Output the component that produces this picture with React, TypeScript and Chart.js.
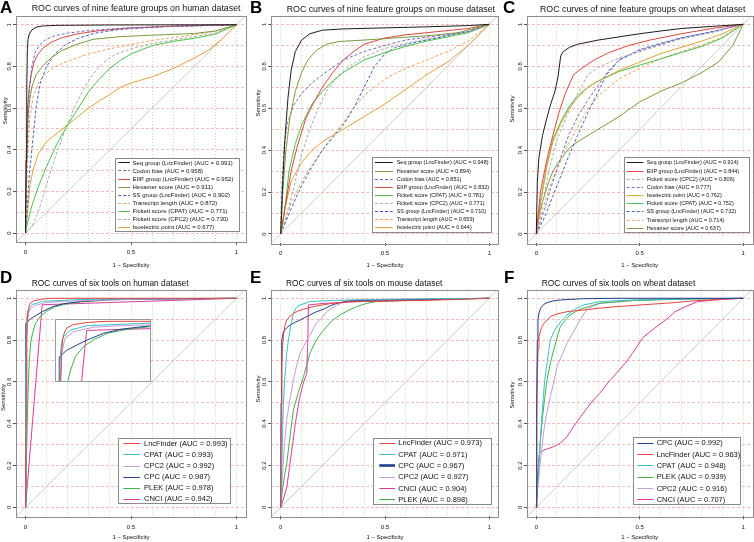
import React, { useEffect, useRef } from 'react';
import { Chart, registerables } from 'chart.js';

Chart.register(...registerables);

const FF = "'Liberation Sans', Arial, Helvetica, sans-serif";

type Pt = [number, number];

// ---------- ticks ----------
const X_TICKS = [0, 0.5, 1];
const Y_TICKS = [0, 0.2, 0.4, 0.6, 0.8, 1];
const GRID_TICKS = [0, 0.1, 0.2, 0.3, 0.4, 0.5, 0.6, 0.7, 0.8, 0.9, 1];

// ---------- Panel A : nine feature groups, human ----------
const A_names = ['Seq group (LncFinder)', 'Codon bias', 'EIIP group (LncFinder)', 'Hexamer score', 'SS group (LncFinder)', 'Transcript length', 'Fickett score (CPAT)', 'Fickett score (CPC2)', 'Isoelectric point'];
const A_auc = [0.991, 0.958, 0.952, 0.911, 0.902, 0.872, 0.771, 0.730, 0.677];
const A_seq: Pt[] = [[0, 0], [0.003, 0.35], [0.006, 0.7], [0.009, 0.88], [0.012, 0.93], [0.018, 0.955], [0.03, 0.975], [0.05, 0.988], [0.08, 0.994], [0.15, 0.997], [0.4, 0.999], [1, 1]];
const A_codon: Pt[] = [[0, 0], [0.005, 0.3], [0.012, 0.55], [0.02, 0.7], [0.03, 0.8], [0.045, 0.865], [0.065, 0.9], [0.09, 0.925], [0.13, 0.945], [0.2, 0.96], [0.3, 0.972], [0.45, 0.983], [0.7, 0.993], [1, 1]];
const A_eiip: Pt[] = [[0, 0], [0.004, 0.4], [0.01, 0.6], [0.018, 0.7], [0.027, 0.76], [0.04, 0.82], [0.06, 0.86], [0.085, 0.89], [0.12, 0.915], [0.17, 0.937], [0.24, 0.955], [0.35, 0.972], [0.5, 0.985], [0.7, 0.993], [1, 1]];
const A_hex: Pt[] = [[0, 0], [0.005, 0.35], [0.012, 0.55], [0.02, 0.64], [0.03, 0.7], [0.05, 0.76], [0.08, 0.8], [0.12, 0.84], [0.17, 0.875], [0.24, 0.905], [0.32, 0.93], [0.45, 0.943], [0.6, 0.95], [0.8, 0.958], [0.9, 0.97], [1, 1]];
const A_ss: Pt[] = [[0, 0], [0.01, 0.15], [0.02, 0.3], [0.035, 0.45], [0.05, 0.6], [0.07, 0.72], [0.1, 0.8], [0.14, 0.86], [0.19, 0.905], [0.25, 0.935], [0.33, 0.96], [0.45, 0.978], [0.65, 0.99], [1, 1]];
const A_tlen: Pt[] = [[0, 0], [0.005, 0.2], [0.012, 0.4], [0.02, 0.55], [0.035, 0.65], [0.06, 0.72], [0.09, 0.76], [0.14, 0.8], [0.2, 0.825], [0.3, 0.86], [0.4, 0.885], [0.5, 0.905], [0.6, 0.925], [0.75, 0.945], [0.9, 0.968], [1, 1]];
const A_fcpat: Pt[] = [[0, 0], [0.01, 0.05], [0.03, 0.13], [0.06, 0.22], [0.1, 0.32], [0.15, 0.43], [0.2, 0.52], [0.25, 0.6], [0.3, 0.68], [0.35, 0.74], [0.4, 0.79], [0.45, 0.83], [0.5, 0.86], [0.6, 0.9], [0.7, 0.92], [0.8, 0.935], [0.9, 0.955], [1, 1]];
const A_fcpc2: Pt[] = [[0, 0], [0.03, 0.03], [0.06, 0.1], [0.09, 0.2], [0.12, 0.3], [0.15, 0.39], [0.19, 0.5], [0.23, 0.6], [0.27, 0.68], [0.31, 0.75], [0.36, 0.81], [0.42, 0.855], [0.5, 0.885], [0.6, 0.91], [0.75, 0.935], [0.9, 0.96], [1, 1]];
const A_iso: Pt[] = [[0, 0], [0.01, 0.1], [0.02, 0.22], [0.035, 0.3], [0.06, 0.38], [0.1, 0.44], [0.15, 0.48], [0.2, 0.52], [0.25, 0.56], [0.3, 0.6], [0.35, 0.635], [0.4, 0.665], [0.45, 0.7], [0.5, 0.72], [0.6, 0.75], [0.7, 0.79], [0.8, 0.84], [0.87, 0.88], [0.93, 0.93], [1, 1]];

// ---------- Panel B : nine feature groups, mouse ----------
const B_names = ['Seq group (LncFinder)', 'Hexamer score', 'Codon bias', 'EIIP group (LncFinder)', 'Fickett score (CPAT)', 'Fickett score (CPC2)', 'SS group (LncFinder)', 'Transcript length', 'Isoelectric point'];
const B_auc = [0.948, 0.894, 0.851, 0.832, 0.781, 0.771, 0.710, 0.659, 0.644];
const B_seq: Pt[] = [[0, 0], [0.01, 0.25], [0.02, 0.45], [0.035, 0.65], [0.05, 0.78], [0.07, 0.87], [0.1, 0.925], [0.14, 0.955], [0.2, 0.972], [0.3, 0.978], [0.5, 0.983], [0.7, 0.988], [0.9, 0.994], [1, 1]];
const B_hex: Pt[] = [[0, 0], [0.01, 0.2], [0.025, 0.4], [0.045, 0.56], [0.07, 0.68], [0.1, 0.77], [0.13, 0.83], [0.17, 0.875], [0.22, 0.905], [0.28, 0.918], [0.4, 0.925], [0.55, 0.935], [0.7, 0.945], [0.85, 0.96], [1, 1]];
const B_codon: Pt[] = [[0, 0], [0.005, 0.2], [0.015, 0.4], [0.03, 0.52], [0.06, 0.61], [0.1, 0.67], [0.15, 0.72], [0.2, 0.76], [0.3, 0.83], [0.4, 0.87], [0.5, 0.9], [0.6, 0.925], [0.75, 0.945], [0.9, 0.965], [1, 1]];
const B_eiip: Pt[] = [[0, 0], [0.02, 0.12], [0.05, 0.3], [0.08, 0.42], [0.12, 0.55], [0.16, 0.63], [0.2, 0.7], [0.25, 0.77], [0.3, 0.83], [0.35, 0.87], [0.4, 0.905], [0.5, 0.935], [0.6, 0.95], [0.75, 0.965], [0.9, 0.98], [1, 1]];
const B_fcpat: Pt[] = [[0, 0], [0.02, 0.12], [0.04, 0.3], [0.07, 0.43], [0.1, 0.52], [0.15, 0.62], [0.2, 0.68], [0.25, 0.73], [0.3, 0.77], [0.4, 0.83], [0.5, 0.865], [0.6, 0.895], [0.7, 0.92], [0.8, 0.94], [0.9, 0.96], [1, 1]];
const B_fcpc2: Pt[] = [[0, 0], [0.03, 0.1], [0.07, 0.25], [0.1, 0.38], [0.14, 0.5], [0.18, 0.6], [0.22, 0.68], [0.27, 0.75], [0.33, 0.8], [0.4, 0.845], [0.5, 0.885], [0.6, 0.91], [0.75, 0.94], [0.9, 0.965], [1, 1]];
const B_ss: Pt[] = [[0, 0], [0.05, 0.12], [0.1, 0.23], [0.15, 0.32], [0.2, 0.4], [0.25, 0.46], [0.3, 0.52], [0.35, 0.6], [0.4, 0.7], [0.45, 0.8], [0.5, 0.86], [0.55, 0.89], [0.65, 0.915], [0.8, 0.945], [0.9, 0.965], [1, 1]];
const B_tlen: Pt[] = [[0, 0], [0.05, 0.15], [0.1, 0.25], [0.15, 0.33], [0.2, 0.4], [0.25, 0.47], [0.3, 0.53], [0.35, 0.6], [0.4, 0.66], [0.45, 0.7], [0.5, 0.74], [0.6, 0.79], [0.7, 0.83], [0.8, 0.87], [0.9, 0.92], [1, 1]];
const B_iso: Pt[] = [[0, 0], [0.02, 0.12], [0.05, 0.25], [0.1, 0.34], [0.15, 0.4], [0.2, 0.44], [0.3, 0.5], [0.4, 0.56], [0.5, 0.62], [0.6, 0.69], [0.7, 0.76], [0.8, 0.82], [0.9, 0.9], [1, 1]];

// ---------- Panel C : nine feature groups, wheat ----------
const C_names = ['Seq group (LncFinder)', 'EIIP group (LncFinder)', 'Fickett score (CPC2)', 'Codon bias', 'Isoelectric point', 'Fickett score (CPAT)', 'SS group (LncFinder)', 'Transcript length', 'Hexamer score'];
const C_auc = [0.914, 0.844, 0.806, 0.777, 0.762, 0.752, 0.732, 0.714, 0.637];
const C_seq: Pt[] = [[0, 0], [0.005, 0.25], [0.012, 0.36], [0.03, 0.47], [0.05, 0.55], [0.07, 0.62], [0.09, 0.68], [0.105, 0.75], [0.118, 0.85], [0.13, 0.87], [0.16, 0.89], [0.2, 0.905], [0.3, 0.925], [0.4, 0.94], [0.5, 0.955], [0.6, 0.968], [0.7, 0.98], [0.85, 0.99], [1, 1]];
const C_eiip: Pt[] = [[0, 0], [0.02, 0.2], [0.05, 0.35], [0.08, 0.47], [0.11, 0.58], [0.14, 0.67], [0.18, 0.76], [0.22, 0.79], [0.28, 0.83], [0.35, 0.865], [0.45, 0.9], [0.55, 0.925], [0.7, 0.955], [0.85, 0.98], [1, 1]];
const C_fcpc2: Pt[] = [[0, 0], [0.03, 0.15], [0.06, 0.3], [0.1, 0.45], [0.15, 0.57], [0.2, 0.67], [0.25, 0.76], [0.3, 0.795], [0.4, 0.84], [0.5, 0.87], [0.6, 0.9], [0.7, 0.93], [0.85, 0.96], [1, 1]];
const C_codon: Pt[] = [[0, 0], [0.04, 0.12], [0.08, 0.25], [0.12, 0.37], [0.16, 0.48], [0.2, 0.56], [0.25, 0.64], [0.3, 0.71], [0.35, 0.78], [0.4, 0.83], [0.5, 0.88], [0.6, 0.91], [0.7, 0.935], [0.85, 0.965], [1, 1]];
const C_iso: Pt[] = [[0, 0], [0.02, 0.15], [0.05, 0.32], [0.08, 0.44], [0.12, 0.53], [0.16, 0.6], [0.2, 0.65], [0.25, 0.7], [0.3, 0.73], [0.4, 0.78], [0.5, 0.82], [0.6, 0.86], [0.7, 0.89], [0.8, 0.92], [0.9, 0.955], [1, 1]];
const C_fcpat: Pt[] = [[0, 0], [0.02, 0.15], [0.05, 0.32], [0.08, 0.45], [0.12, 0.54], [0.16, 0.61], [0.2, 0.66], [0.25, 0.7], [0.3, 0.73], [0.4, 0.775], [0.5, 0.805], [0.6, 0.835], [0.7, 0.865], [0.8, 0.895], [0.9, 0.935], [1, 1]];
const C_ss: Pt[] = [[0, 0], [0.04, 0.08], [0.08, 0.18], [0.12, 0.28], [0.16, 0.38], [0.2, 0.47], [0.25, 0.58], [0.3, 0.68], [0.34, 0.76], [0.4, 0.83], [0.5, 0.875], [0.6, 0.905], [0.7, 0.935], [0.85, 0.965], [1, 1]];
const C_tlen: Pt[] = [[0, 0], [0.03, 0.12], [0.07, 0.24], [0.11, 0.33], [0.15, 0.42], [0.2, 0.51], [0.25, 0.6], [0.3, 0.66], [0.4, 0.74], [0.5, 0.79], [0.6, 0.835], [0.7, 0.87], [0.8, 0.9], [0.9, 0.94], [1, 1]];
const C_hex: Pt[] = [[0, 0], [0.02, 0.12], [0.05, 0.22], [0.08, 0.3], [0.12, 0.36], [0.16, 0.41], [0.2, 0.44], [0.25, 0.47], [0.3, 0.5], [0.35, 0.53], [0.4, 0.56], [0.5, 0.63], [0.6, 0.68], [0.7, 0.72], [0.8, 0.77], [0.88, 0.82], [0.95, 0.9], [1, 1]];

// ---------- Panel D : six tools, human ----------
const D_names = ['LncFinder', 'CPAT', 'CPC2', 'CPC', 'PLEK', 'CNCI'];
const D_auc = [0.993, 0.993, 0.992, 0.987, 0.978, 0.942];
const D_lnc: Pt[] = [[0, 0], [0.003, 0.5], [0.006, 0.8], [0.009, 0.9], [0.012, 0.94], [0.016, 0.96], [0.023, 0.977], [0.04, 0.988], [0.08, 0.996], [0.13, 1], [1, 1]];
const D_cpat: Pt[] = [[0, 0], [0.002, 0.6], [0.004, 0.85], [0.006, 0.9], [0.01, 0.935], [0.014, 0.948], [0.033, 0.97], [0.08, 0.985], [0.175, 0.99], [0.26, 0.994], [0.5, 0.998], [1, 1]];
const D_cpc2: Pt[] = [[0, 0], [0.003, 0.5], [0.006, 0.8], [0.009, 0.89], [0.018, 0.942], [0.042, 0.965], [0.1, 0.98], [0.175, 0.985], [0.26, 0.988], [0.5, 0.995], [1, 1]];
const D_cpc: Pt[] = [[0, 0], [0.001, 0.6], [0.002, 0.878], [0.023, 0.901], [0.052, 0.919], [0.08, 0.936], [0.127, 0.959], [0.175, 0.973], [0.26, 0.985], [0.4, 0.994], [1, 1]];
const D_plek: Pt[] = [[0, 0], [0.006, 0.3], [0.012, 0.55], [0.018, 0.7], [0.025, 0.79], [0.033, 0.83], [0.047, 0.878], [0.07, 0.913], [0.1, 0.938], [0.137, 0.959], [0.194, 0.973], [0.26, 0.982], [0.4, 0.992], [0.6, 0.997], [1, 1]];
const D_cnci: Pt[] = [[0, 0], [0.079, 0.969], [1, 1]];

// ---------- Panel E : six tools, mouse ----------
const E_names = ['LncFinder', 'CPAT', 'CPC', 'CPC2', 'CNCI', 'PLEK'];
const E_auc = [0.973, 0.971, 0.967, 0.927, 0.904, 0.898];
const E_lnc: Pt[] = [[0, 0], [0.002, 0.4], [0.005, 0.66], [0.009, 0.77], [0.013, 0.817], [0.02, 0.87], [0.029, 0.896], [0.045, 0.915], [0.061, 0.928], [0.085, 0.94], [0.109, 0.947], [0.14, 0.956], [0.17, 0.963], [0.25, 0.976], [0.33, 0.984], [0.5, 0.987], [0.65, 0.989], [0.8, 0.993], [1, 1]];
const E_cpat: Pt[] = [[0, 0], [0.005, 0.18], [0.009, 0.35], [0.013, 0.5], [0.02, 0.62], [0.029, 0.737], [0.037, 0.8], [0.045, 0.85], [0.061, 0.928], [0.075, 0.955], [0.093, 0.968], [0.14, 0.984], [0.25, 0.99], [0.49, 0.995], [1, 1]];
const E_cpc: Pt[] = [[0, 0], [0.002, 0.5], [0.005, 0.8], [0.013, 0.84], [0.03, 0.86], [0.045, 0.872], [0.07, 0.885], [0.093, 0.896], [0.12, 0.91], [0.14, 0.92], [0.17, 0.935], [0.204, 0.947], [0.24, 0.965], [0.27, 0.976], [0.33, 0.989], [0.5, 0.992], [1, 1]];
const E_cpc2: Pt[] = [[0, 0], [0.008, 0.15], [0.018, 0.3], [0.029, 0.42], [0.045, 0.52], [0.061, 0.61], [0.077, 0.68], [0.093, 0.737], [0.11, 0.77], [0.125, 0.8], [0.15, 0.84], [0.17, 0.88], [0.2, 0.91], [0.22, 0.936], [0.27, 0.968], [0.33, 0.989], [0.5, 0.994], [1, 1]];
const E_cnci: Pt[] = [[0, 0], [0.01, 0.03], [0.03, 0.1], [0.05, 0.25], [0.07, 0.4], [0.09, 0.52], [0.11, 0.6], [0.125, 0.64], [0.13, 0.8], [0.133, 0.968], [0.2, 0.975], [0.4, 0.985], [0.6, 0.99], [1, 1]];
const E_plek: Pt[] = [[0, 0], [0.008, 0.08], [0.018, 0.15], [0.029, 0.21], [0.045, 0.34], [0.061, 0.466], [0.085, 0.55], [0.109, 0.625], [0.125, 0.68], [0.14, 0.737], [0.17, 0.8], [0.2, 0.84], [0.22, 0.864], [0.25, 0.895], [0.284, 0.92], [0.32, 0.94], [0.364, 0.96], [0.41, 0.975], [0.46, 0.984], [0.6, 0.99], [1, 1]];

// ---------- Panel F : six tools, wheat ----------
const F_names = ['CPC', 'LncFinder', 'CPAT', 'PLEK', 'CPC2', 'CNCI'];
const F_auc = [0.992, 0.963, 0.948, 0.939, 0.916, 0.707];
const F_cpc: Pt[] = [[0, 0], [0.002, 0.5], [0.005, 0.8], [0.008, 0.896], [0.013, 0.93], [0.021, 0.952], [0.035, 0.97], [0.052, 0.979], [0.08, 0.987], [0.116, 0.992], [0.227, 0.998], [0.4, 1], [1, 1]];
const F_lnc: Pt[] = [[0, 0], [0.002, 0.4], [0.005, 0.66], [0.009, 0.76], [0.013, 0.817], [0.025, 0.86], [0.037, 0.88], [0.068, 0.912], [0.1, 0.925], [0.148, 0.936], [0.227, 0.944], [0.3, 0.952], [0.386, 0.96], [0.5, 0.968], [0.624, 0.976], [0.78, 0.989], [0.9, 0.996], [1, 1]];
const F_cpat: Pt[] = [[0, 0], [0.005, 0.1], [0.012, 0.2], [0.02, 0.33], [0.029, 0.466], [0.04, 0.6], [0.052, 0.69], [0.06, 0.75], [0.068, 0.8], [0.085, 0.84], [0.1, 0.864], [0.125, 0.895], [0.148, 0.92], [0.19, 0.95], [0.227, 0.968], [0.306, 0.984], [0.465, 0.992], [0.7, 0.997], [1, 1]];
const F_plek: Pt[] = [[0, 0], [0.005, 0.1], [0.012, 0.2], [0.02, 0.32], [0.029, 0.42], [0.04, 0.52], [0.052, 0.61], [0.068, 0.69], [0.084, 0.753], [0.1, 0.81], [0.116, 0.864], [0.14, 0.895], [0.163, 0.92], [0.2, 0.942], [0.227, 0.952], [0.306, 0.976], [0.465, 0.989], [0.7, 0.996], [1, 1]];
const F_cpc2: Pt[] = [[0, 0], [0.008, 0.1], [0.02, 0.22], [0.037, 0.37], [0.05, 0.45], [0.068, 0.53], [0.085, 0.6], [0.1, 0.673], [0.125, 0.73], [0.148, 0.785], [0.18, 0.84], [0.211, 0.896], [0.243, 0.944], [0.27, 0.962], [0.306, 0.976], [0.465, 0.989], [0.7, 0.996], [1, 1]];
const F_cnci: Pt[] = [[0, 0], [0.005, 0.12], [0.01, 0.22], [0.015, 0.258], [0.037, 0.274], [0.084, 0.29], [0.116, 0.306], [0.148, 0.338], [0.19, 0.4], [0.227, 0.45], [0.265, 0.5], [0.306, 0.545], [0.35, 0.6], [0.386, 0.64], [0.43, 0.69], [0.465, 0.737], [0.513, 0.81], [0.55, 0.84], [0.592, 0.872], [0.63, 0.9], [0.671, 0.936], [0.72, 0.96], [0.78, 0.984], [0.9, 0.995], [1, 1]];

// ---------- styles ----------
const STYLE: Record<string, { color: string; dash?: number[] }> = {
  'Seq group (LncFinder)': { color: '#1c1c1c' },
  'Codon bias': { color: '#7566c8', dash: [3, 2] },
  'EIIP group (LncFinder)': { color: '#d8473f' },
  'Hexamer score': { color: '#7b9a3d' },
  'SS group (LncFinder)': { color: '#3b62be', dash: [3, 2] },
  'Transcript length': { color: '#f2a460', dash: [3, 2] },
  'Fickett score (CPAT)': { color: '#4cc14c' },
  'Fickett score (CPC2)': { color: '#a9a9a9', dash: [3, 2] },
  'Isoelectric point': { color: '#e2a13b' },
  LncFinder: { color: '#e2443f' },
  CPAT: { color: '#3dbfc6' },
  CPC2: { color: '#c99bd8' },
  CPC: { color: '#243d8c' },
  PLEK: { color: '#40b24d' },
  CNCI: { color: '#d63d99' },
};

const XMIN = -0.045, XMAX = 1.045, YMIN = -0.043, YMAX = 1.042;

interface Legend { x: number; y: number; w: number; h: number; row0: number; rowH: number; l0: number; l1: number; tx: number; size: number }
interface Panel {
  letter: string; title: string; names: string[]; auc: number[]; curves: Pt[][];
  left: number; top: number; w: number; h: number;
  area: { l: number; t: number; r: number; b: number };
  titleX: number; titleY: number; titleSize: number;
  letterX: number; letterY: number;
  xlabY: number; ylabX: number; ylabY: number;
  legend: Legend; thick?: string;
}

const PANELS: Panel[] = [
  {
    letter: 'A', title: 'ROC curves of nine feature groups on human dataset', names: A_names, auc: A_auc,
    curves: [A_seq, A_codon, A_eiip, A_hex, A_ss, A_tlen, A_fcpat, A_fcpc2, A_iso],
    left: 0, top: 0, w: 250, h: 270, area: { l: 16, t: 16, r: 246, b: 242 },
    titleX: 31.7, titleY: 9, titleSize: 8.8, letterX: 0, letterY: 12.5, xlabY: 265, ylabX: 5, ylabY: 110.8,
    legend: { x: 115, y: 158.3, w: 124.3, h: 72.7, row0: 162.4, rowH: 8.05, l0: 118.3, l1: 130, tx: 132.5, size: 6 },
  },
  {
    letter: 'B', title: 'ROC curves of nine feature groups on mouse dataset', names: B_names, auc: B_auc,
    curves: [B_seq, B_hex, B_codon, B_eiip, B_fcpat, B_fcpc2, B_ss, B_tlen, B_iso],
    left: 250, top: 0, w: 250, h: 270, area: { l: 21.3, t: 15.5, r: 248.7, b: 243 },
    titleX: 36.7, titleY: 10, titleSize: 8.8, letterX: 0, letterY: 12.5, xlabY: 265, ylabX: 8.3, ylabY: 103,
    legend: { x: 121.7, y: 156.7, w: 119, h: 75, row0: 162.4, rowH: 8.12, l0: 125, l1: 142.7, tx: 146.7, size: 5.5 },
  },
  {
    letter: 'C', title: 'ROC curves of nine feature groups on wheat dataset', names: C_names, auc: C_auc,
    curves: [C_seq, C_eiip, C_fcpc2, C_codon, C_iso, C_fcpat, C_ss, C_tlen, C_hex],
    left: 500, top: 0, w: 254, h: 270, area: { l: 27, t: 15.5, r: 252.5, b: 243 },
    titleX: 40, titleY: 10, titleSize: 8.8, letterX: 3, letterY: 12.5, xlabY: 265, ylabX: 12.7, ylabY: 109,
    legend: { x: 124, y: 156.7, w: 125.3, h: 75, row0: 162.4, rowH: 8.17, l0: 126.7, l1: 143.3, tx: 146.7, size: 5.5 },
  },
  {
    letter: 'D', title: 'ROC curves of six tools on human dataset', names: D_names, auc: D_auc,
    curves: [D_lnc, D_cpat, D_cpc2, D_cpc, D_plek, D_cnci],
    left: 0, top: 270, w: 250, h: 272, area: { l: 16, t: 19.5, r: 246, b: 246.3 },
    titleX: 31.7, titleY: 13.3, titleSize: 8.4, letterX: 0, letterY: 12.7, xlabY: 267.7, ylabX: 3, ylabY: 127.5,
    legend: { x: 117.7, y: 168.3, w: 112.3, h: 65, row0: 173.4, rowH: 11.08, l0: 123.3, l1: 140, tx: 144, size: 7.5 },
  },
  {
    letter: 'E', title: 'ROC curves of six tools on mouse dataset', names: E_names, auc: E_auc,
    curves: [E_lnc, E_cpat, E_cpc, E_cpc2, E_cnci, E_plek],
    left: 250, top: 270, w: 250, h: 272, area: { l: 21.3, t: 19.5, r: 248.7, b: 246.3 },
    titleX: 36, titleY: 13.3, titleSize: 8.4, letterX: 0, letterY: 12.7, xlabY: 267.7, ylabX: 8.3, ylabY: 119,
    legend: { x: 122.7, y: 167.7, w: 118, h: 65.6, row0: 172.8, rowH: 11.32, l0: 129.3, l1: 145, tx: 148.3, size: 7.5 },
    thick: 'CPC',
  },
  {
    letter: 'F', title: 'ROC curves of six tools on wheat dataset', names: F_names, auc: F_auc,
    curves: [F_cpc, F_lnc, F_cpat, F_plek, F_cpc2, F_cnci],
    left: 500, top: 270, w: 254, h: 272, area: { l: 27, t: 19.5, r: 252.5, b: 246.3 },
    titleX: 41.7, titleY: 13.3, titleSize: 8.4, letterX: 4, letterY: 12.7, xlabY: 267.7, ylabX: 12.7, ylabY: 125,
    legend: { x: 133.3, y: 166.7, w: 107.4, h: 66.6, row0: 172.8, rowH: 11.32, l0: 137.3, l1: 153.3, tx: 156.7, size: 7.5 },
  },
];

// inset of panel D: region of the main plot it covers and its own zoomed range
const INSET_BOX = { x0: 0.142, x1: 0.595, y0: 0.6, y1: 0.9 };
const INSET_RANGE = { xmin: -0.01, xmax: 0.26, ymin: 0.792, ymax: 1.008 };

const fmt = (v: number) => String(Math.round(v * 100) / 100);

function buildDatasets(p: Panel, withDiag: boolean) {
  const ds: any[] = p.names.map((n, i) => ({
    label: `${n} (AUC = ${p.auc[i].toFixed(3)})`,
    data: p.curves[i].map(([x, y]) => ({ x, y })),
    borderColor: STYLE[n].color,
    borderDash: STYLE[n].dash ?? [],
    borderWidth: 1,
    pointRadius: 0,
    tension: 0,
    fill: false,
    order: i,
    legendWidth: p.thick === n ? 2.6 : 1,
  }));
  if (withDiag) {
    ds.push({
      label: '__diag', isDiag: true,
      data: [{ x: -0.1, y: -0.1 }, { x: 1.1, y: 1.1 }],
      borderColor: '#cccccc', borderWidth: 1, pointRadius: 0, fill: false, order: 100,
    });
  }
  return ds;
}

function gridAxis(axis: 'x' | 'y', min: number, max: number, color: string, dash: number[]) {
  return {
    type: 'linear', axis, position: axis === 'x' ? 'bottom' : 'left', min, max, display: true,
    afterBuildTicks: (s: any) => { s.ticks = GRID_TICKS.map((v) => ({ value: v })); },
    ticks: { display: false },
    grid: { display: true, drawOnChartArea: true, drawTicks: false, color, lineWidth: 1 },
    border: { display: false, dash },
    afterFit: (s: any) => { if (axis === 'x') s.height = 0; else s.width = 0; },
  };
}

function decorPlugin(p: Panel) {
  return {
    id: 'decor' + p.letter,
    beforeDraw(chart: any) {
      const { ctx, width, height } = chart;
      ctx.save(); ctx.fillStyle = '#ffffff'; ctx.fillRect(0, 0, width, height); ctx.restore();
    },
    afterDatasetsDraw(chart: any) {
      const { ctx, chartArea: a, scales } = chart;
      ctx.save();
      ctx.strokeStyle = '#8e8e8e'; ctx.lineWidth = 1; ctx.setLineDash([]);
      ctx.strokeRect(Math.round(a.left) + 0.5, Math.round(a.top) + 0.5, Math.round(a.right - a.left), Math.round(a.bottom - a.top));
      ctx.fillStyle = '#111'; ctx.font = `6px ${FF}`; ctx.textAlign = 'center'; ctx.textBaseline = 'middle';
      for (const v of Y_TICKS) {
        const py = scales.y.getPixelForValue(v);
        ctx.save(); ctx.translate(a.left - 7, py); ctx.rotate(-Math.PI / 2); ctx.fillText(fmt(v), 0, 0); ctx.restore();
      }
      const L = p.legend;
      ctx.fillStyle = '#ffffff'; ctx.fillRect(L.x, L.y, L.w, L.h);
      ctx.strokeStyle = '#8a8a8a'; ctx.strokeRect(Math.round(L.x) + 0.5, Math.round(L.y) + 0.5, Math.round(L.w), Math.round(L.h));
      ctx.font = `${L.size}px ${FF}`; ctx.textAlign = 'left'; ctx.textBaseline = 'middle';
      const ds = chart.data.datasets.filter((d: any) => !d.isDiag);
      ds.forEach((d: any, i: number) => {
        const y = L.row0 + i * L.rowH;
        ctx.save();
        ctx.strokeStyle = d.borderColor; ctx.lineWidth = d.legendWidth || 1; ctx.setLineDash(d.borderDash || []);
        ctx.beginPath(); ctx.moveTo(L.l0, Math.round(y) + 0.5); ctx.lineTo(L.l1, Math.round(y) + 0.5); ctx.stroke();
        ctx.restore();
        ctx.fillStyle = '#111'; ctx.fillText(d.label, L.tx, y + 0.5);
      });
      ctx.restore();
    },
    afterDraw(chart: any) {
      const { ctx, scales } = chart;
      ctx.save();
      ctx.fillStyle = '#000';
      ctx.font = `bold 17px ${FF}`; ctx.textAlign = 'left'; ctx.textBaseline = 'alphabetic';
      ctx.fillText(p.letter, p.letterX, p.letterY);
      ctx.font = `${p.titleSize}px ${FF}`; ctx.textBaseline = 'middle'; ctx.fillStyle = '#111';
      ctx.fillText(p.title, p.titleX, p.titleY);
      ctx.font = `6px ${FF}`; ctx.textAlign = 'center';
      ctx.fillText('1 \u2212 Specificity', scales.x.getPixelForValue(0.5), p.xlabY);
      ctx.save(); ctx.translate(p.ylabX, p.ylabY); ctx.rotate(-Math.PI / 2); ctx.fillText('Sensitivity', 0, 0); ctx.restore();
      ctx.restore();
    },
  };
}

function buildConfig(p: Panel): any {
  return {
    type: 'line',
    data: { datasets: buildDatasets(p, true) },
    options: {
      responsive: false, animation: false, events: [],
      layout: { padding: { left: 0, bottom: 0, top: p.area.t, right: p.w - p.area.r } },
      plugins: { legend: { display: false }, tooltip: { enabled: false }, title: { display: false } },
      scales: {
        gx: gridAxis('x', XMIN, XMAX, 'rgba(190, 212, 150, 0.8)', [1, 2]),
        gy: gridAxis('y', YMIN, YMAX, 'rgba(242, 160, 160, 0.7)', [3, 2]),
        x: {
          type: 'linear', position: 'bottom', min: XMIN, max: XMAX,
          afterBuildTicks: (s: any) => { s.ticks = X_TICKS.map((v) => ({ value: v })); },
          ticks: { font: { family: FF, size: 6 }, color: '#111', padding: 4, maxRotation: 0, autoSkip: false, callback: (v: any) => fmt(Number(v)) },
          grid: { drawOnChartArea: false, drawTicks: true, tickLength: 3, color: '#555' },
          border: { display: false },
          afterFit: (s: any) => { s.height = p.h - p.area.b; },
        },
        y: {
          type: 'linear', position: 'left', min: YMIN, max: YMAX,
          afterBuildTicks: (s: any) => { s.ticks = Y_TICKS.map((v) => ({ value: v })); },
          ticks: { display: false },
          grid: { drawOnChartArea: false, drawTicks: true, tickLength: 3, color: '#555' },
          border: { display: false },
          afterFit: (s: any) => { s.width = p.area.l; },
        },
      },
    },
    plugins: [decorPlugin(p)],
  };
}

function insetConfig(p: Panel): any {
  return {
    type: 'line',
    data: { datasets: buildDatasets(p, false) },
    options: {
      responsive: false, animation: false, events: [],
      layout: { padding: 0 },
      plugins: { legend: { display: false }, tooltip: { enabled: false } },
      scales: {
        x: { type: 'linear', min: INSET_RANGE.xmin, max: INSET_RANGE.xmax, display: false },
        y: { type: 'linear', min: INSET_RANGE.ymin, max: INSET_RANGE.ymax, display: false },
      },
    },
    plugins: [{
      id: 'insetFrame',
      beforeDraw(chart: any) { const { ctx, width, height } = chart; ctx.save(); ctx.fillStyle = '#fff'; ctx.fillRect(0, 0, width, height); ctx.restore(); },
      afterDraw(chart: any) { const { ctx, width, height } = chart; ctx.save(); ctx.strokeStyle = '#9a9a9a'; ctx.lineWidth = 1; ctx.strokeRect(0.5, 0.5, width - 1, height - 1); ctx.restore(); },
    }],
  };
}

export default function App() {
  const refs = useRef<(HTMLCanvasElement | null)[]>([]);
  const insetRef = useRef<HTMLCanvasElement | null>(null);

  useEffect(() => {
    const charts: Chart[] = [];
    PANELS.forEach((p, i) => {
      const c = refs.current[i];
      if (c) charts.push(new Chart(c, buildConfig(p)));
    });
    const dChart: any = charts[3];
    const ic = insetRef.current;
    if (dChart && ic) {
      const sx = dChart.scales.x, sy = dChart.scales.y;
      const l = Math.round(sx.getPixelForValue(INSET_BOX.x0));
      const r = Math.round(sx.getPixelForValue(INSET_BOX.x1));
      const t = Math.round(sy.getPixelForValue(INSET_BOX.y1));
      const b = Math.round(sy.getPixelForValue(INSET_BOX.y0));
      ic.width = r - l; ic.height = b - t;
      ic.style.left = `${PANELS[3].left + l}px`; ic.style.top = `${PANELS[3].top + t}px`;
      ic.style.width = `${r - l}px`; ic.style.height = `${b - t}px`;
      charts.push(new Chart(ic, insetConfig(PANELS[3])));
    }
    return () => charts.forEach((c) => c.destroy());
  }, []);

  return (
    <div style={{ position: 'fixed', left: 0, top: 0, width: 754, height: 542, background: '#fff', overflow: 'hidden' }}>
      {PANELS.map((p, i) => (
        <canvas
          key={p.letter}
          ref={(el) => { refs.current[i] = el; }}
          width={p.w}
          height={p.h}
          style={{ position: 'absolute', left: p.left, top: p.top, width: p.w, height: p.h }}
        />
      ))}
      <canvas ref={insetRef} style={{ position: 'absolute', left: 0, top: 0 }} />
    </div>
  );
}
